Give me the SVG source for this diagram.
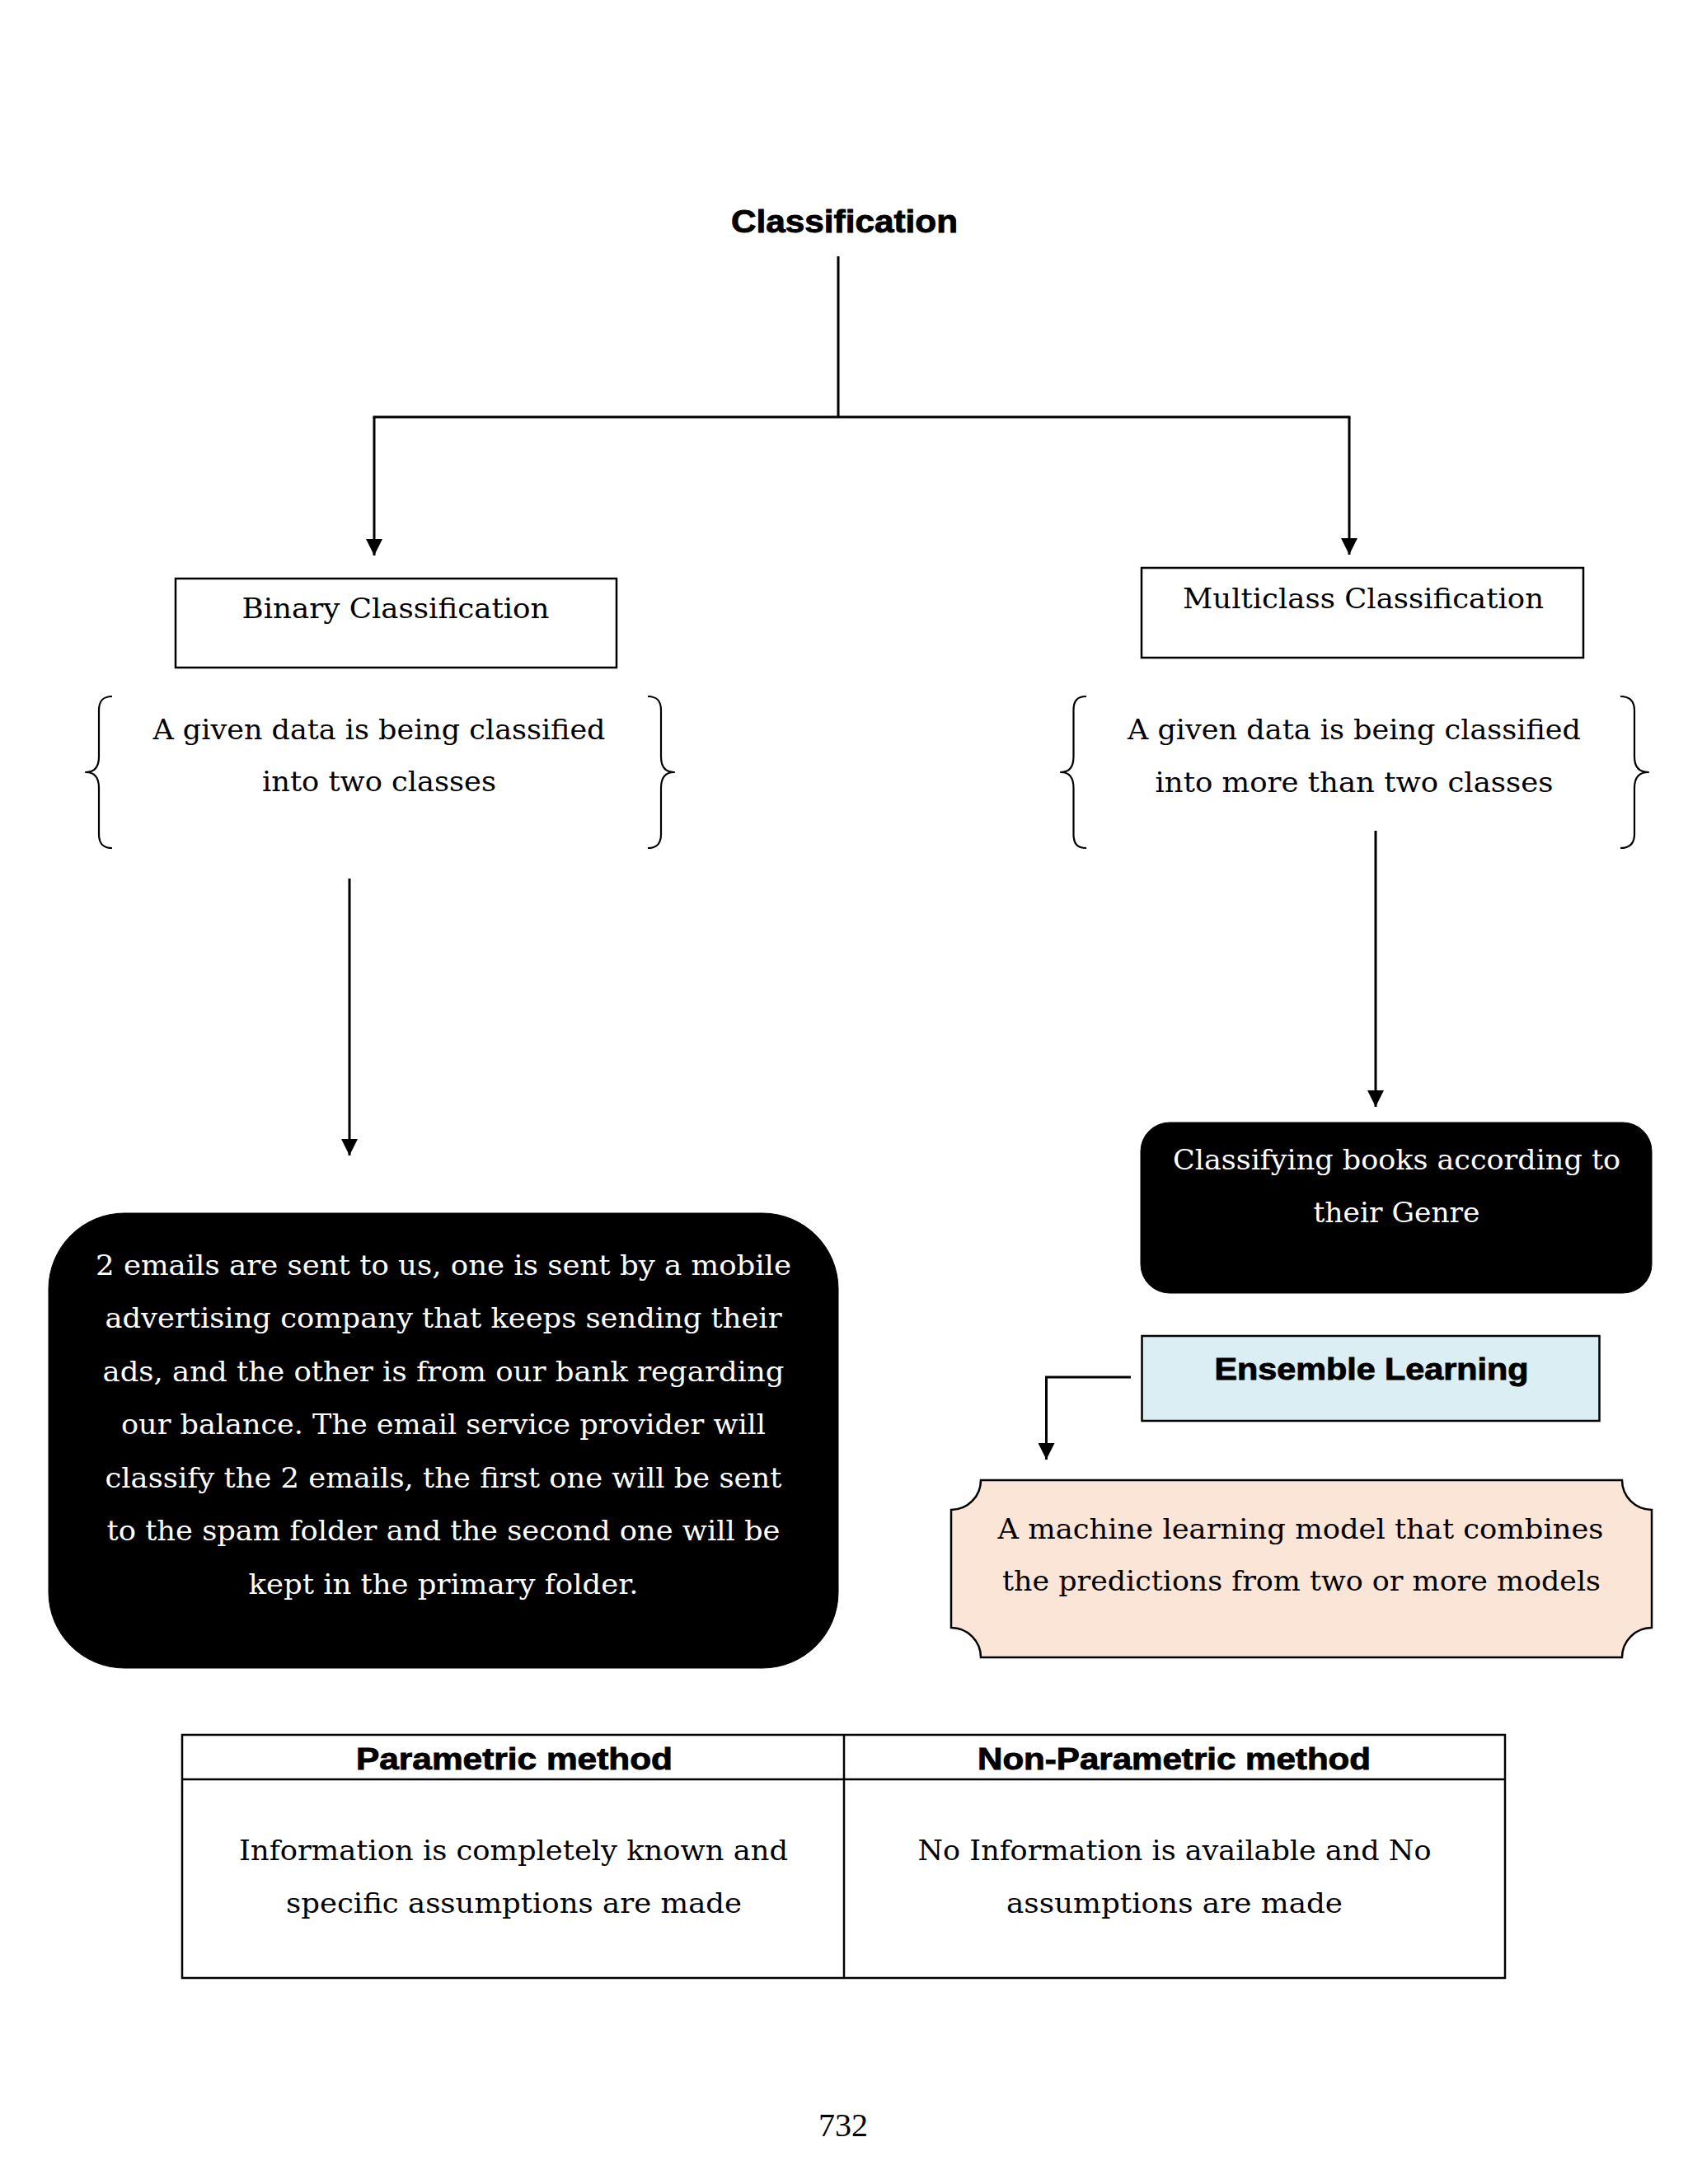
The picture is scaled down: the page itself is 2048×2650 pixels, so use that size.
<svg xmlns="http://www.w3.org/2000/svg" width="2048" height="2650" viewBox="0 0 2048 2650">
  <style>
    .bg { fill: #ffffff; }
    .conn { fill: none; stroke: #000000; stroke-width: 3; }
    .box { fill: #ffffff; stroke: #000000; stroke-width: 2.5; }
    .brace { fill: none; stroke: #000000; stroke-width: 2.2; stroke-linejoin: round; }
    .dark { fill: #000000; stroke: #000000; stroke-width: 1; }
    .serif { font-family: "DejaVu Serif", "Liberation Serif", serif; font-size: 34px; fill: #000000; text-anchor: middle; }
    .serif.white { fill: #ffffff; }
    .heavy { font-family: "Liberation Sans", Arial, sans-serif; font-weight: bold; fill: #000000; stroke: #000000; stroke-width: 0.9; text-anchor: middle; }
    .pageno { font-family: "Liberation Serif", "Times New Roman", serif; font-size: 40px; fill: #000000; text-anchor: middle; }
    .tbl { fill: none; stroke: #000000; stroke-width: 2.5; }
  </style>
  <defs>
    <marker id="arrow" viewBox="0 0 20 20" refX="20" refY="10" markerWidth="20" markerHeight="20" markerUnits="userSpaceOnUse" orient="auto">
      <path d="M0,0 L20,10 L0,20 Z" fill="#000000"/>
    </marker>
  </defs>

  <rect class="bg" x="0" y="0" width="2048" height="2650"/>

  <g id="connectors">
    <path class="conn" d="M1017,311 V506"/>
    <path class="conn" d="M452.5,506 H1638.5"/>
    <path class="conn" d="M454,506 V674" marker-end="url(#arrow)"/>
    <path class="conn" d="M1637,506 V673" marker-end="url(#arrow)"/>
    <path class="conn" d="M424,1066 V1402" marker-end="url(#arrow)"/>
    <path class="conn" d="M1669,1008 V1343" marker-end="url(#arrow)"/>
    <path class="conn" d="M1372,1671 H1269.5 V1771" marker-end="url(#arrow)"/>
  </g>

  <g id="classification">
    <text class="heavy" x="1024.5" y="282" font-size="38" textLength="275" lengthAdjust="spacingAndGlyphs">Classification</text>
  </g>

  <g id="binary-classification">
    <rect class="box" x="213" y="702" width="535" height="108"/>
    <text class="serif" x="480" y="750" textLength="373" lengthAdjust="spacingAndGlyphs">Binary Classification</text>
  </g>

  <g id="multiclass-classification">
    <rect class="box" x="1385" y="689" width="536" height="109"/>
    <text class="serif" x="1654" y="738" textLength="438" lengthAdjust="spacingAndGlyphs">Multiclass Classification</text>
  </g>

  <g id="binary-definition">
    <path class="brace" d="M136,845 C125,845 120,850 120,862 V918 C120,930 115,937 104,937 C115,937 120,944 120,956 V1012 C120,1024 125,1029 136,1029"/>
    <path class="brace" d="M786,845 C797,845 802,850 802,862 V918 C802,930 807,937 818,937 C807,937 802,944 802,956 V1012 C802,1024 797,1029 786,1029"/>
    <text class="serif" x="460" y="897" textLength="549" lengthAdjust="spacingAndGlyphs">A given data is being classified</text>
    <text class="serif" x="460" y="960" textLength="284" lengthAdjust="spacingAndGlyphs">into two classes</text>
  </g>

  <g id="multiclass-definition">
    <path class="brace" d="M1318,845 C1307,845 1302.5,850 1302.5,862 V918 C1302.5,930 1298,937 1287,937 C1298,937 1302.5,944 1302.5,956 V1012 C1302.5,1024 1307,1029 1318,1029"/>
    <path class="brace" d="M1966,845 C1977,845 1983,850 1983,862 V918 C1983,930 1988,937 2000,937 C1988,937 1983,944 1983,956 V1012 C1983,1024 1977,1029 1966,1029"/>
    <text class="serif" x="1643" y="897" textLength="550" lengthAdjust="spacingAndGlyphs">A given data is being classified</text>
    <text class="serif" x="1643" y="961" textLength="483" lengthAdjust="spacingAndGlyphs">into more than two classes</text>
  </g>

  <g id="email-example">
    <rect class="dark" x="59" y="1472" width="958" height="552" rx="92" ry="92"/>
    <text class="serif white" x="538" y="1547" textLength="844" lengthAdjust="spacingAndGlyphs">2 emails are sent to us, one is sent by a mobile</text>
    <text class="serif white" x="538" y="1611" textLength="821" lengthAdjust="spacingAndGlyphs">advertising company that keeps sending their</text>
    <text class="serif white" x="538" y="1676" textLength="827" lengthAdjust="spacingAndGlyphs">ads, and the other is from our bank regarding</text>
    <text class="serif white" x="538" y="1740" textLength="782" lengthAdjust="spacingAndGlyphs">our balance. The email service provider will</text>
    <text class="serif white" x="538" y="1805" textLength="821" lengthAdjust="spacingAndGlyphs">classify the 2 emails, the first one will be sent</text>
    <text class="serif white" x="538" y="1869" textLength="817" lengthAdjust="spacingAndGlyphs">to the spam folder and the second one will be</text>
    <text class="serif white" x="538" y="1934" textLength="473" lengthAdjust="spacingAndGlyphs">kept in the primary folder.</text>
  </g>

  <g id="books-example">
    <rect class="dark" x="1384" y="1362" width="620" height="207" rx="35" ry="35"/>
    <text class="serif white" x="1694.5" y="1419" textLength="543" lengthAdjust="spacingAndGlyphs">Classifying books according to</text>
    <text class="serif white" x="1694.5" y="1483" textLength="202" lengthAdjust="spacingAndGlyphs">their Genre</text>
  </g>

  <g id="ensemble-learning">
    <rect x="1385.5" y="1621" width="555" height="103" fill="#DAEEF3" stroke="#000000" stroke-width="2.5"/>
    <text class="heavy" x="1664" y="1674" font-size="36" textLength="381" lengthAdjust="spacingAndGlyphs">Ensemble Learning</text>
  </g>

  <g id="ensemble-definition">
    <path d="M1190,1796 H1968 A36,36 0 0 0 2004,1832 V1975 A36,36 0 0 0 1968,2011 H1190 A36,36 0 0 0 1154,1975 V1832 A36,36 0 0 0 1190,1796 Z" fill="#FBE5D6" stroke="#000000" stroke-width="2.5"/>
    <text class="serif" x="1578" y="1867" textLength="735" lengthAdjust="spacingAndGlyphs">A machine learning model that combines</text>
    <text class="serif" x="1579" y="1930" textLength="726" lengthAdjust="spacingAndGlyphs">the predictions from two or more models</text>
  </g>

  <g id="comparison-table">
    <rect class="tbl" x="221" y="2105" width="1605" height="295"/>
    <line class="tbl" x1="221" y1="2159" x2="1826" y2="2159"/>
    <line class="tbl" x1="1024" y1="2105" x2="1024" y2="2400" stroke-width="2"/>
    <text class="heavy" x="624" y="2147" font-size="37" textLength="384" lengthAdjust="spacingAndGlyphs">Parametric method</text>
    <text class="heavy" x="1424.5" y="2147" font-size="37" textLength="477" lengthAdjust="spacingAndGlyphs">Non-Parametric method</text>
    <text class="serif" x="623" y="2257" textLength="666" lengthAdjust="spacingAndGlyphs">Information is completely known and</text>
    <text class="serif" x="623.5" y="2321" textLength="553" lengthAdjust="spacingAndGlyphs">specific assumptions are made</text>
    <text class="serif" x="1425" y="2257" textLength="623" lengthAdjust="spacingAndGlyphs">No Information is available and No</text>
    <text class="serif" x="1425" y="2321" textLength="408" lengthAdjust="spacingAndGlyphs">assumptions are made</text>
  </g>

  <g id="page-number">
    <text class="pageno" x="1023" y="2592">732</text>
  </g>
</svg>
